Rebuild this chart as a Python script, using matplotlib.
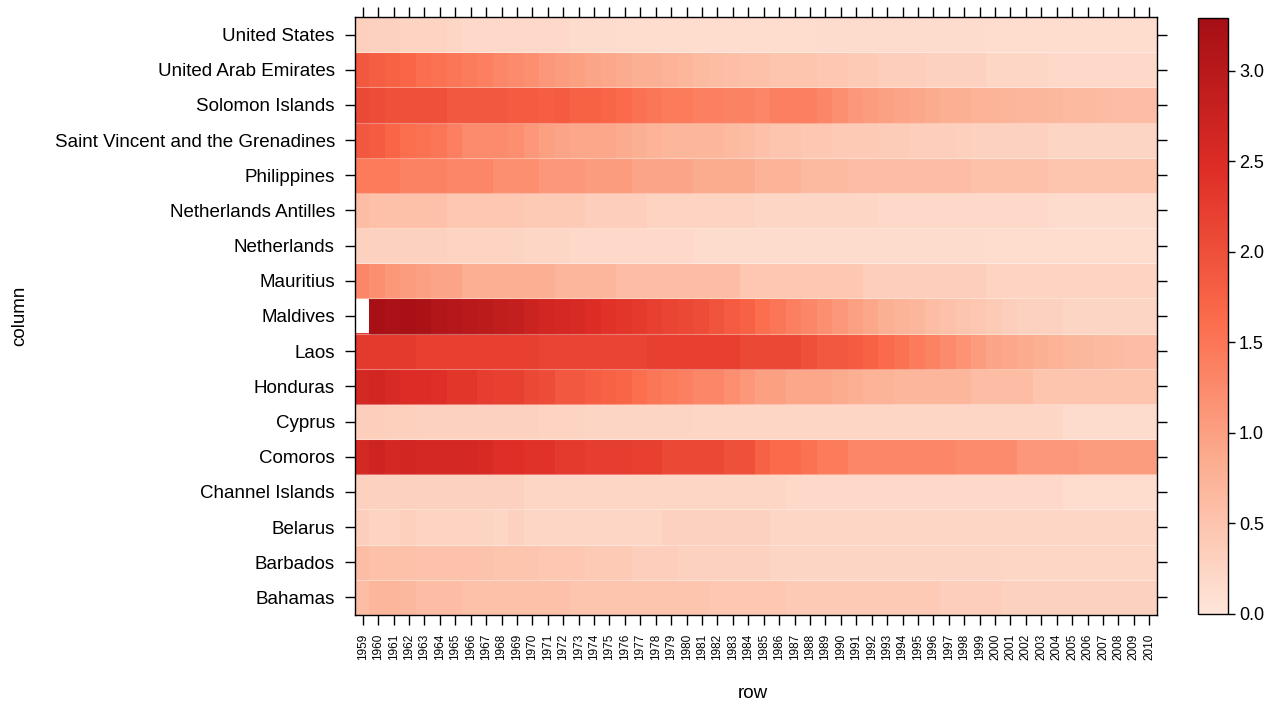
import numpy as np
import matplotlib
matplotlib.use("Agg")
import matplotlib.pyplot as plt
from matplotlib.colors import LinearSegmentedColormap

years = list(range(1959, 2011))

countries = ["Bahamas", "Barbados", "Belarus", "Channel Islands", "Comoros", "Cyprus",
             "Honduras", "Laos", "Maldives", "Mauritius", "Netherlands",
             "Netherlands Antilles", "Philippines", "Saint Vincent and the Grenadines",
             "Solomon Islands", "United Arab Emirates", "United States"]

bahamas = [0.6, 0.7, 0.7, 0.68, 0.6, 0.6, 0.6, 0.55, 0.55, 0.55, 0.55, 0.55, 0.55, 0.55,
           0.5, 0.5, 0.5, 0.5, 0.5, 0.5, 0.5, 0.5, 0.5, 0.45, 0.45, 0.45, 0.45, 0.45,
           0.4, 0.4, 0.4, 0.4, 0.4, 0.4, 0.4, 0.4, 0.4, 0.4, 0.35, 0.35, 0.35, 0.35,
           0.3, 0.3, 0.3, 0.3, 0.3, 0.3, 0.3, 0.3, 0.3, 0.3]
barbados = [0.6, 0.55, 0.55, 0.55, 0.52, 0.52, 0.52, 0.52, 0.52, 0.5, 0.5, 0.5, 0.45, 0.45,
            0.45, 0.4, 0.4, 0.4, 0.35, 0.35, 0.35, 0.3, 0.3, 0.3, 0.3, 0.3, 0.3, 0.25,
            0.25, 0.25, 0.25, 0.25, 0.25, 0.25, 0.25, 0.25, 0.25, 0.25, 0.25, 0.25, 0.25, 0.25,
            0.22, 0.22, 0.22, 0.22, 0.22, 0.22, 0.22, 0.22, 0.22, 0.22]
belarus = [0.35, 0.28, 0.28, 0.33, 0.28, 0.28, 0.28, 0.28, 0.28, 0.22, 0.3, 0.22, 0.22, 0.22,
           0.22, 0.22, 0.22, 0.22, 0.22, 0.22, 0.3, 0.3, 0.3, 0.3, 0.3, 0.3, 0.3, 0.22,
           0.22, 0.22, 0.22, 0.22, 0.22, 0.22, 0.22, 0.22, 0.22, 0.22, 0.22, 0.22, 0.22, 0.22,
           0.22, 0.22, 0.22, 0.22, 0.22, 0.22, 0.22, 0.22, 0.22, 0.22]
channel_islands = [0.3, 0.3, 0.3, 0.3, 0.3, 0.3, 0.3, 0.3, 0.3, 0.3, 0.3, 0.22, 0.22, 0.22,
                   0.22, 0.22, 0.22, 0.22, 0.22, 0.22, 0.22, 0.22, 0.22, 0.22, 0.22, 0.22, 0.22, 0.22,
                   0.2, 0.2, 0.2, 0.2, 0.2, 0.2, 0.2, 0.2, 0.2, 0.2, 0.2, 0.2, 0.2, 0.2,
                   0.2, 0.2, 0.2, 0.2, 0.12, 0.12, 0.12, 0.12, 0.12, 0.12]
comoros = [2.6, 2.7, 2.6, 2.65, 2.6, 2.6, 2.6, 2.6, 2.55, 2.45, 2.45, 2.4, 2.4, 2.3,
           2.3, 2.25, 2.25, 2.25, 2.2, 2.2, 2.1, 2.1, 2.1, 2.1, 2.0, 2.0, 1.75, 1.65,
           1.65, 1.55, 1.45, 1.45, 1.3, 1.3, 1.3, 1.3, 1.3, 1.3, 1.3, 1.25, 1.25, 1.25,
           1.25, 1.1, 1.1, 1.1, 1.1, 1.05, 1.05, 1.05, 1.05, 1.05]
cyprus = [0.35, 0.35, 0.32, 0.32, 0.3, 0.3, 0.3, 0.3, 0.3, 0.3, 0.3, 0.3, 0.28, 0.28,
          0.28, 0.25, 0.25, 0.25, 0.25, 0.25, 0.25, 0.25, 0.22, 0.22, 0.22, 0.22, 0.22, 0.22,
          0.22, 0.22, 0.22, 0.22, 0.22, 0.22, 0.22, 0.22, 0.22, 0.22, 0.22, 0.22, 0.22, 0.22,
          0.22, 0.22, 0.22, 0.22, 0.15, 0.15, 0.15, 0.15, 0.15, 0.15]
honduras = [2.6, 2.65, 2.55, 2.5, 2.5, 2.45, 2.35, 2.35, 2.25, 2.2, 2.2, 2.1, 2.05, 1.9,
            1.9, 1.8, 1.75, 1.7, 1.6, 1.5, 1.45, 1.4, 1.3, 1.3, 1.2, 1.1, 1.0, 1.0,
            0.9, 0.9, 0.9, 0.85, 0.8, 0.75, 0.75, 0.7, 0.7, 0.7, 0.7, 0.7, 0.6, 0.6,
            0.6, 0.6, 0.5, 0.5, 0.5, 0.5, 0.5, 0.5, 0.5, 0.5]
laos = [2.3, 2.3, 2.3, 2.3, 2.2, 2.2, 2.2, 2.2, 2.2, 2.2, 2.2, 2.2, 2.15, 2.15,
        2.15, 2.15, 2.15, 2.15, 2.15, 2.2, 2.2, 2.2, 2.2, 2.2, 2.2, 2.1, 2.1, 2.1,
        2.1, 2.0, 1.9, 1.9, 1.85, 1.75, 1.65, 1.55, 1.45, 1.35, 1.25, 1.15, 1.05, 0.95,
        0.9, 0.85, 0.8, 0.75, 0.7, 0.68, 0.65, 0.62, 0.6, 0.6]
maldives = [np.nan, 3.25, 3.2, 3.25, 3.2, 3.1, 3.05, 3.0, 2.95, 2.9, 2.85, 2.75, 2.65, 2.6,
            2.55, 2.5, 2.4, 2.35, 2.3, 2.2, 2.15, 2.1, 2.05, 1.95, 1.85, 1.75, 1.6, 1.5,
            1.4, 1.3, 1.2, 1.1, 1.0, 0.9, 0.8, 0.75, 0.7, 0.6, 0.55, 0.5, 0.45, 0.4,
            0.35, 0.3, 0.3, 0.3, 0.25, 0.25, 0.25, 0.25, 0.25, 0.25]
mauritius = [1.3, 1.2, 1.1, 1.05, 1.0, 0.95, 0.95, 0.8, 0.8, 0.8, 0.8, 0.8, 0.8, 0.7,
             0.7, 0.7, 0.7, 0.6, 0.6, 0.6, 0.6, 0.6, 0.6, 0.6, 0.6, 0.45, 0.45, 0.45,
             0.45, 0.45, 0.45, 0.45, 0.45, 0.35, 0.35, 0.35, 0.35, 0.35, 0.35, 0.35, 0.35, 0.28,
             0.28, 0.28, 0.28, 0.28, 0.28, 0.28, 0.28, 0.28, 0.28, 0.28]
netherlands = [0.3, 0.3, 0.3, 0.3, 0.3, 0.3, 0.28, 0.28, 0.28, 0.28, 0.28, 0.22, 0.22, 0.22,
               0.2, 0.2, 0.2, 0.2, 0.18, 0.18, 0.18, 0.18, 0.15, 0.15, 0.15, 0.15, 0.15, 0.15,
               0.15, 0.15, 0.15, 0.15, 0.15, 0.15, 0.15, 0.15, 0.15, 0.15, 0.15, 0.15, 0.15, 0.12,
               0.12, 0.12, 0.12, 0.12, 0.12, 0.12, 0.12, 0.12, 0.12, 0.12]
neth_antilles = [0.6, 0.55, 0.55, 0.55, 0.55, 0.55, 0.45, 0.45, 0.45, 0.45, 0.45, 0.4, 0.4, 0.4,
                 0.4, 0.35, 0.35, 0.35, 0.35, 0.28, 0.28, 0.28, 0.28, 0.28, 0.28, 0.28, 0.22, 0.22,
                 0.22, 0.22, 0.22, 0.22, 0.22, 0.22, 0.2, 0.2, 0.2, 0.2, 0.2, 0.2, 0.2, 0.2,
                 0.2, 0.2, 0.2, 0.15, 0.15, 0.15, 0.15, 0.15, 0.15, 0.15]
philippines = [1.45, 1.45, 1.45, 1.35, 1.35, 1.35, 1.3, 1.3, 1.3, 1.2, 1.2, 1.2, 1.1, 1.1,
               1.1, 1.05, 1.05, 1.05, 0.95, 0.95, 0.95, 0.95, 0.85, 0.85, 0.85, 0.85, 0.75, 0.75,
               0.75, 0.65, 0.65, 0.65, 0.6, 0.6, 0.6, 0.6, 0.6, 0.6, 0.6, 0.6, 0.55, 0.55,
               0.55, 0.55, 0.55, 0.5, 0.5, 0.5, 0.5, 0.5, 0.5, 0.5]
saint_vincent = [1.9, 1.85, 1.7, 1.6, 1.55, 1.5, 1.4, 1.25, 1.25, 1.25, 1.2, 1.1, 1.0, 0.95,
                 0.9, 0.9, 0.9, 0.85, 0.8, 0.75, 0.7, 0.7, 0.7, 0.7, 0.65, 0.6, 0.55, 0.5,
                 0.5, 0.45, 0.45, 0.4, 0.4, 0.4, 0.38, 0.38, 0.35, 0.35, 0.35, 0.32, 0.3, 0.3,
                 0.3, 0.3, 0.3, 0.25, 0.25, 0.25, 0.25, 0.25, 0.25, 0.25]
solomon = [2.1, 2.05, 2.0, 2.0, 2.0, 2.0, 1.9, 1.9, 1.9, 1.9, 1.85, 1.85, 1.8, 1.85,
           1.75, 1.75, 1.7, 1.65, 1.55, 1.5, 1.45, 1.45, 1.4, 1.4, 1.35, 1.35, 1.3, 1.4,
           1.4, 1.4, 1.3, 1.2, 1.1, 1.05, 1.0, 0.95, 0.9, 0.85, 0.8, 0.8, 0.75, 0.75,
           0.72, 0.7, 0.7, 0.68, 0.65, 0.65, 0.62, 0.6, 0.6, 0.6]
uae = [1.9, 1.8, 1.75, 1.7, 1.6, 1.55, 1.5, 1.45, 1.4, 1.3, 1.25, 1.2, 1.1, 1.05,
       1.0, 0.95, 0.9, 0.85, 0.8, 0.8, 0.75, 0.7, 0.65, 0.6, 0.58, 0.55, 0.55, 0.5,
       0.5, 0.5, 0.45, 0.45, 0.4, 0.4, 0.35, 0.35, 0.35, 0.3, 0.3, 0.3, 0.3, 0.22,
       0.22, 0.22, 0.22, 0.2, 0.2, 0.2, 0.18, 0.18, 0.18, 0.18]
united_states = [0.32, 0.3, 0.3, 0.28, 0.27, 0.26, 0.22, 0.2, 0.2, 0.18, 0.18, 0.2, 0.2, 0.18,
                 0.15, 0.15, 0.15, 0.14, 0.14, 0.14, 0.14, 0.14, 0.14, 0.14, 0.14, 0.14, 0.14, 0.14,
                 0.14, 0.14, 0.15, 0.15, 0.15, 0.15, 0.15, 0.15, 0.15, 0.15, 0.15, 0.15, 0.15, 0.14,
                 0.14, 0.14, 0.14, 0.14, 0.14, 0.14, 0.12, 0.12, 0.12, 0.12]

rows = [bahamas, barbados, belarus, channel_islands, comoros, cyprus, honduras, laos,
        maldives, mauritius, netherlands, neth_antilles, philippines, saint_vincent,
        solomon, uae, united_states]

Z = np.ma.masked_invalid(np.array(rows, dtype=float))

cmap = LinearSegmentedColormap.from_list(
    "reds5", ["#FEE5D9", "#FCAE91", "#FB6A4A", "#DE2D26", "#A50F15"])

plt.rcParams['font.family'] = ['Liberation Sans', 'DejaVu Sans']

fig = plt.figure(figsize=(12.73, 7.04), dpi=100)
W, H = 1273, 704
ax = fig.add_axes([355 / W, 1 - 615 / H, (1157 - 355) / W, (615 - 17) / H])
cax = fig.add_axes([1198 / W, 1 - 614 / H, (1228 - 1198) / W, (614 - 18) / H])

vmax = 3.29
x_edges = np.arange(len(years) + 1) - 0.5
y_edges = np.arange(len(countries) + 1) - 0.5
mesh = ax.pcolormesh(x_edges, y_edges, Z, cmap=cmap, vmin=0, vmax=vmax,
                     edgecolors='face', linewidth=0.2)
for yb in y_edges[1:-1]:
    ax.axhline(yb, color='white', alpha=0.35, linewidth=0.8)
ax.set_xlim(-0.5, len(years) - 0.5)
ax.set_ylim(-0.5, len(countries) - 0.5)

ax.set_xticks(np.arange(len(years)))
ax.set_xticklabels([str(y) for y in years], rotation=90, fontsize=8.5,
                   family=['Liberation Sans Narrow', 'Liberation Sans'])
ax.set_yticks(np.arange(len(countries)))
ax.set_yticklabels(countries, fontsize=13.5)
ax.tick_params(axis='both', direction='out', length=7.5, width=1, colors='black',
               top=True, right=True, labeltop=False, labelright=False, pad=7)
ax.tick_params(axis='x', pad=6)
for s in ax.spines.values():
    s.set_linewidth(1)
ax.set_xlabel("row", fontsize=13.5)
ax.set_ylabel("column", fontsize=13.5)
ax.xaxis.set_label_coords((753 - 355) / (1157 - 355), -(693 - 615) / (615 - 17))
ax.xaxis.label.set_va('center')
ax.yaxis.set_label_coords(-(355 - 20) / (1157 - 355), 0.5)
ax.yaxis.label.set_va('center')

cb = fig.colorbar(mesh, cax=cax)
cb.set_ticks([0.0, 0.5, 1.0, 1.5, 2.0, 2.5, 3.0])
cb.set_ticklabels(["0.0", "0.5", "1.0", "1.5", "2.0", "2.5", "3.0"])
cb.ax.tick_params(labelsize=13, length=5, width=1, direction='out', pad=3)
cb.outline.set_linewidth(1)

fig.savefig("out.png", dpi=100)
